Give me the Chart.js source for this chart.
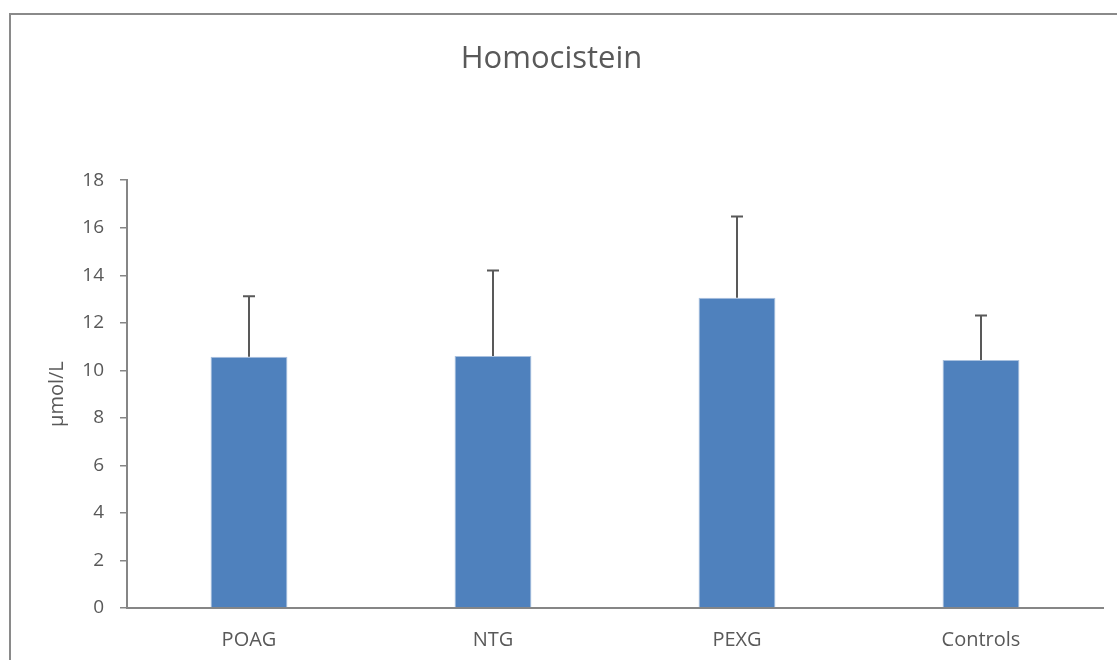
<!DOCTYPE html>
<html>
<head>
<meta charset="utf-8">
<script src="https://cdn.jsdelivr.net/npm/chart.js@4.4.1/dist/chart.umd.min.js"></script>
<style>
  html, body { margin: 0; padding: 0; background: #fff; overflow: hidden; }
  #wrap { position: relative; width: 1117px; height: 660px; }
  #frame { position: absolute; left: 9px; top: 13px; width: 1200px; height: 800px;
           border: 2px solid #8a8a8a; box-sizing: border-box; }
  canvas { position: absolute; left: 0; top: 0; }
</style>
</head>
<body>
<div id="wrap">
  <div id="frame"></div>
  <canvas id="chart" width="1117" height="660"></canvas>
</div>
<script>
const categories = ["POAG", "NTG", "PEXG", "Controls"];
const means = [10.57, 10.6, 13.05, 10.43];
const errors = [2.55, 3.6, 3.42, 1.88];
const yTicks = [0, 2, 4, 6, 8, 10, 12, 14, 16, 18];

const textColor = '#595959';
const axisColor = '#868686';
const font = "'Open Sans', 'DejaVu Sans', sans-serif";

// positive-only error bars, drawn through the chart's own scales
const errorBars = {
  id: 'errorBars',
  afterDatasetsDraw(chart) {
    const ctx = chart.ctx;
    const meta = chart.getDatasetMeta(0);
    const y = chart.scales.y;
    ctx.save();
    ctx.strokeStyle = '#595959';
    ctx.lineWidth = 2;
    meta.data.forEach((bar, i) => {
      const top = y.getPixelForValue(means[i] + errors[i]);
      ctx.beginPath();
      ctx.moveTo(bar.x, bar.y);
      ctx.lineTo(bar.x, top);
      ctx.moveTo(bar.x - 6, top);
      ctx.lineTo(bar.x + 6, top);
      ctx.stroke();
    });
    ctx.restore();
  }
};

new Chart(document.getElementById('chart'), {
  type: 'bar',
  data: {
    labels: categories,
    datasets: [{
      label: 'Homocistein',
      data: means,
      backgroundColor: '#4f81bd',
      borderColor: '#a9c1df',
      borderWidth: 1,
      categoryPercentage: 1,
      barPercentage: 0.315
    }]
  },
  options: {
    responsive: false,
    animation: false,
    devicePixelRatio: 1,
    layout: { padding: { left: 0, right: 14, top: 0, bottom: 0 } },
    plugins: {
      legend: { display: false },
      tooltip: { enabled: false },
      title: {
        display: true,
        text: 'Homocistein',
        color: textColor,
        font: { family: font, size: 31, weight: 'normal' },
        padding: { top: 41, bottom: 102 }
      }
    },
    scales: {
      x: {
        grid: { display: false },
        border: { display: true, color: axisColor, width: 2 },
        ticks: { color: textColor, font: { family: font, size: 20 }, padding: 12 },
        afterFit(scale) { scale.height = 52; }
      },
      y: {
        min: 0,
        max: 18,
        afterBuildTicks(scale) { scale.ticks = yTicks.map(v => ({ value: v })); },
        grid: { drawOnChartArea: false, drawTicks: true, tickLength: 7, color: axisColor, lineWidth: 1.5 },
        border: { display: true, color: axisColor, width: 2 },
        ticks: { color: textColor, font: { family: font, size: 19 }, padding: 16 },
        title: {
          display: true,
          text: 'µmol/L',
          color: textColor,
          font: { family: font, size: 20 },
          padding: { top: 45, bottom: 0 }
        },
        afterFit(scale) { scale.width = 127; }
      }
    }
  },
  plugins: [errorBars]
});
</script>
</body>
</html>
